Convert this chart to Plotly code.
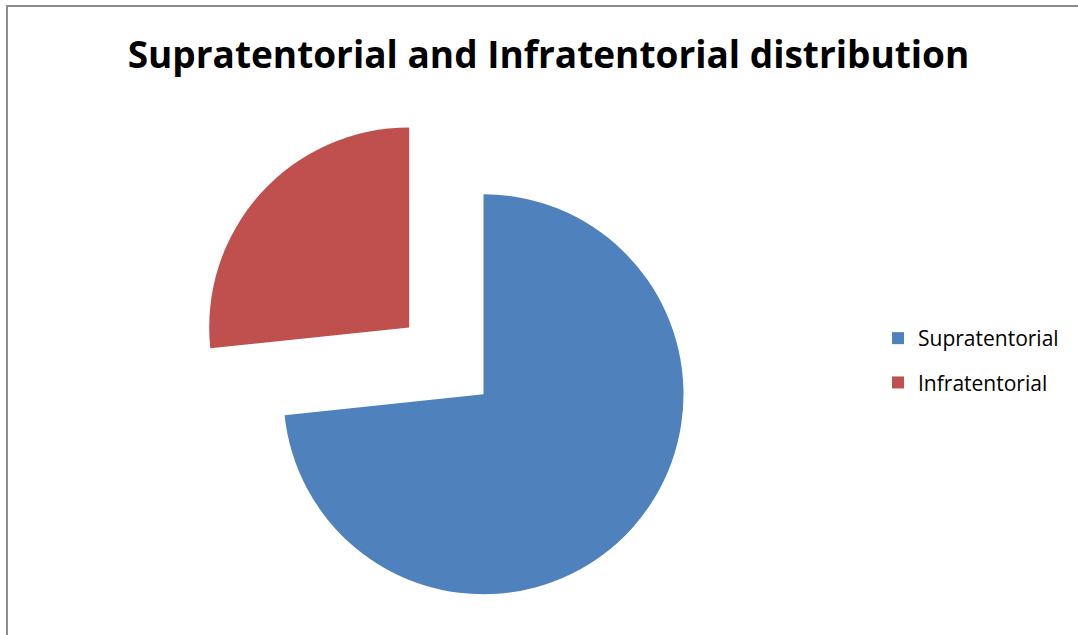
import math
import plotly.graph_objects as go

# ---- data ----
labels = ["Supratentorial", "Infratentorial"]
values = [22, 8]
colors = ["#4F81BD", "#C0504D"]
title_text = "Supratentorial and Infratentorial distribution"

# ---- layout geometry ----
W, H = 1078, 635
cx, cy, R = 483.5, 394.3, 200.0   # main pie centre (px, from top-left) and radius
pull = 0.5                          # exploded slice pull (fraction of radius)
TRANSPARENT = "rgba(0,0,0,0)"


def dom(cxp, cyp, r):
    return dict(x=[(cxp - r) / W, (cxp + r) / W],
                y=[1 - (cyp + r) / H, 1 - (cyp - r) / H])


total = float(sum(values))
start_deg = values[0] / total * 360.0
mid_deg = start_deg + values[1] / total * 360.0 / 2.0  # clockwise from 12 o'clock
dx = pull * R * math.sin(math.radians(mid_deg))
dy = -pull * R * math.cos(math.radians(mid_deg))

fig = go.Figure()

# legend-only tiny pies hidden under the blue slice
hx, hy = 560.0, 480.0
for i, lab in enumerate(labels):
    fig.add_trace(go.Pie(
        labels=[lab], values=[values[i]],
        marker=dict(colors=[colors[i]], line=dict(width=0)),
        domain=dom(hx, hy, 1.0), textinfo="none", hoverinfo="skip",
        sort=False, legendgroup=lab, showlegend=True,
    ))

# main (non-exploded) slice
fig.add_trace(go.Pie(
    labels=labels, values=values,
    marker=dict(colors=[colors[0], TRANSPARENT], line=dict(width=0)),
    domain=dom(cx, cy, R), textinfo="none", sort=False,
    direction="clockwise", rotation=0, showlegend=False,
))
# exploded slice
fig.add_trace(go.Pie(
    labels=labels, values=values,
    marker=dict(colors=[TRANSPARENT, colors[1]], line=dict(width=0)),
    domain=dom(cx + dx, cy + dy, R), textinfo="none", sort=False,
    direction="clockwise", rotation=0, showlegend=False,
))

fig.update_layout(
    width=W, height=H,
    margin=dict(l=0, r=0, t=0, b=0),
    paper_bgcolor="white", plot_bgcolor="white",
    title=dict(text=title_text, x=548.5 / W, xanchor="center",
               y=1 - 55 / H, yanchor="middle", yref="container",
               font=dict(family="Open Sans", size=37, color="black", weight="bold")),
    legend=dict(x=878 / W, xanchor="left", y=1 - 318 / H, yanchor="top",
                font=dict(family="Open Sans", size=21, color="black"),
                tracegroupgap=14, bgcolor="rgba(0,0,0,0)"),
    shapes=[dict(type="rect", xref="paper", yref="paper",
                 x0=7 / W, x1=1.05, y0=-0.05, y1=1 - 6 / H,
                 line=dict(color="#8c8c8c", width=2), fillcolor="rgba(0,0,0,0)")],
)

fig.write_html("out.html")
